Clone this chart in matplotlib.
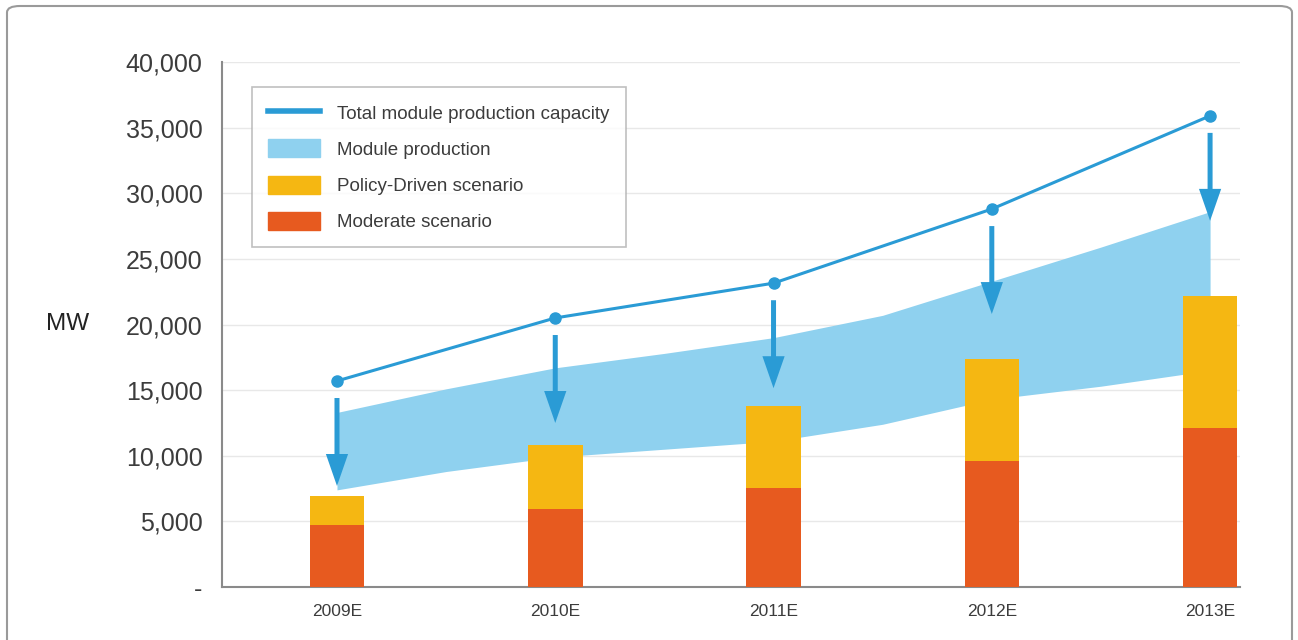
import matplotlib.pyplot as plt
from matplotlib.patches import FancyBboxPatch, Patch
from matplotlib.lines import Line2D
from matplotlib.ticker import FuncFormatter

plt.rcParams['font.family'] = ['Liberation Sans', 'DejaVu Sans']

# --- data (MW) ---
years = ['2009E', '2010E', '2011E', '2012E', '2013E']
capacity = [15700, 20500, 23150, 28800, 35900]
moderate = [4700, 5950, 7550, 9600, 12100]
policy_total = [6950, 10800, 13800, 17350, 22150]

# module production range, read at each year and halfway between
band_x = [0, 0.5, 1, 1.5, 2, 2.5, 3, 3.5, 4]
prod_high = [13300, 15100, 16700, 17800, 19000, 20700, 23300, 25900, 28600]
prod_low = [7400, 8800, 9900, 10500, 11100, 12400, 14300, 15300, 16500]

blue = '#2a9bd5'
light_blue = '#8fd1ef'
orange = '#f5b712'
red = '#e75a1f'

fig = plt.figure(figsize=(12.98, 6.4), dpi=100)
ax = fig.add_axes([0.171, 0.0828, 0.7843, 0.8203])

x = list(range(len(years)))
policy = [t - m for t, m in zip(policy_total, moderate)]

# band of module production
ax.fill_between(band_x, prod_low, prod_high, color=light_blue, lw=0, zorder=2)

# stacked bars
ax.bar(x, moderate, width=0.25, color=red, zorder=3)
ax.bar(x, policy, bottom=moderate, width=0.25, color=orange, zorder=3)

# capacity line
ax.plot(x, capacity, color=blue, lw=2.2, marker='o', ms=8, zorder=4)

# arrows from capacity down into the production band
for i, v in zip(x, capacity):
    ax.annotate('', xy=(i, v - 8000), xytext=(i, v - 1300),
                arrowprops=dict(width=3.6, headwidth=16, headlength=23,
                                color=blue, shrink=0, lw=0),
                zorder=5)

ax.set_xlim(-0.527, 4.137)
ax.set_ylim(0, 40000)
ax.set_yticks(range(0, 40001, 5000))
ax.yaxis.set_major_formatter(FuncFormatter(lambda v, p: '-' if v == 0 else f'{int(v):,}'))
ax.set_xticks(x)
ax.set_xticklabels(years)
ax.tick_params(axis='y', length=0, pad=14, labelsize=18, labelcolor='#3c3c3c')
ax.tick_params(axis='x', length=0, pad=12, labelsize=12.5, labelcolor='#3c3c3c')

ax.grid(axis='y', color='#e8e8e8', lw=1, zorder=0)
ax.set_axisbelow(True)
for s in ['top', 'right']:
    ax.spines[s].set_visible(False)
for s in ['left', 'bottom']:
    ax.spines[s].set_color('#8a8a8a')
    ax.spines[s].set_linewidth(1.5)

fig.text(68 / 1298, 1 - 324 / 640, 'MW', fontsize=17.5, color='#222222',
         ha='center', va='center')

handles = [
    Line2D([], [], color=blue, lw=4),
    Patch(color=light_blue),
    Patch(color=orange),
    Patch(color=red),
]
labels = ['Total module production capacity', 'Module production',
          'Policy-Driven scenario', 'Moderate scenario']
leg = ax.legend(handles, labels, loc='upper left', bbox_to_anchor=(0.0295, 0.952),
                fontsize=13.5, frameon=True, fancybox=False, edgecolor='#b0b0b0',
                handlelength=2.8, handleheight=1.1, labelspacing=0.9,
                borderpad=0.85, handletextpad=0.9, borderaxespad=0)
leg.get_frame().set_linewidth(1.2)
for t in leg.get_texts():
    t.set_color('#3c3c3c')

# outer rounded frame
fig.patches.append(FancyBboxPatch((7 / 1298, -0.05), 1285 / 1298, 1.05 - 6 / 640,
                                  boxstyle='round,pad=0,rounding_size=0.01',
                                  transform=fig.transFigure, fill=False,
                                  edgecolor='#9a9a9a', lw=1.5))

fig.savefig('out.png', dpi=100)
